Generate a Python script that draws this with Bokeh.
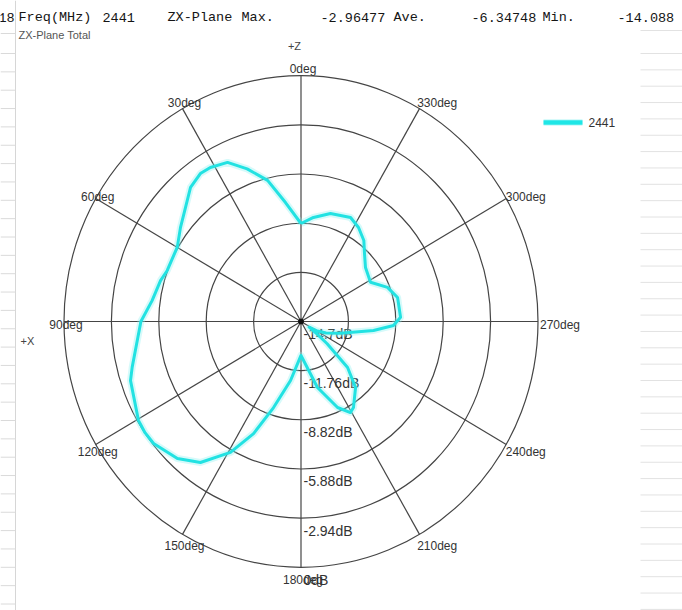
import numpy as np
from bokeh.plotting import figure
from bokeh.models import Range1d
from bokeh.embed import file_html
from bokeh.resources import INLINE
from bokeh.core.properties import value

# ---------------- data ----------------
series_name = "2441"
angles_deg = [0, 7.7, 13.8, 20.1, 25.6, 31.4, 35.2, 40.5, 46.4, 53.1,
              59.9, 69.8, 74.3, 82.3, 90, 104.6, 108.5, 120.4, 124.5, 128.6,
              136.9, 143.5, 150.8, 156.3, 161.7, 169.6, 180, 194.5, 203.8, 209.4,
              212.3, 220.6, 226.4, 230.6, 233, 236, 240, 246, 254, 263.2,
              267.6, 272.4, 283.5, 290.8, 298.6, 308.9, 315.9, 321.2, 327.6, 333.7,
              344.2, 352.9]
gain_db = [-8.84, -7.52, -6.01, -4.98, -4.15, -3.91, -3.87, -4.15, -4.81, -5.35,
           -5.83, -5.86, -5.65, -5.38, -4.77, -3.88, -3.55, -3.01, -2.96, -3.00,
           -3.48, -4.21, -5.73, -7.38, -9.28, -11.11, -12.67, -10.62, -9.08, -8.45,
           -8.61, -9.50, -10.71, -12.60, -13.40, -14.09, -13.60, -13.00, -12.15, -10.17,
           -8.96, -8.52, -8.54, -8.96, -9.79, -9.56, -9.04, -8.48, -8.04, -7.76,
           -7.99, -8.43]
ring_db = [-14.7, -11.76, -8.82, -5.88, -2.94, 0.0]
spoke_deg = [0, 30, 60, 90, 120, 150, 180, 210, 240, 270, 300, 330]
spoke_labels = [f"{a}deg" for a in spoke_deg]
header_tokens = ["18", "Freq(MHz)", "2441", "ZX-Plane", "Max.", "-2.96477",
                 "Ave.", "-6.34748", "Min.", "-14.088"]
chart_title = "ZX-Plane Total"

# ---------------- layout ----------------
W, H = 682, 610
OX, OY = 0, 0                   # page position of the canvas
CX, CY = 300.5, 321.0          # chart centre in page pixels
DB_MIN = ring_db[0]
SPAN = ring_db[-1] - ring_db[0]
KX = 237.0 / SPAN               # px per dB horizontally
KY = 245.8 / SPAN               # px per dB vertically

def px(X):
    return (X - CX) / KX

def py(Y):
    return (CY - Y) / KY

p = figure(width=W, height=H, output_backend="svg", toolbar_location=None,
           x_range=Range1d(px(OX), px(OX + W)), y_range=Range1d(py(OY + H), py(OY)),
           min_border=0)
p.axis.visible = False
p.grid.visible = False
p.outline_line_color = None
p.background_fill_color = "white"
p.border_fill_color = "white"

# spreadsheet background lines
p.segment(x0=[px(15)], y0=[py(0)], x1=[px(15)], y1=[py(610)],
          line_color="#d6d6d6", line_width=1)
left_rows = [33] + list(np.arange(53, 610, 18.35))
p.segment(x0=[px(0)] * len(left_rows), y0=[py(v) for v in left_rows],
          x1=[px(15)] * len(left_rows), y1=[py(v) for v in left_rows],
          line_color="#dadada", line_width=1)
right_rows = [30] + list(np.arange(53, 610, 16.35))
p.segment(x0=[px(640)] * len(right_rows), y0=[py(v) for v in right_rows],
          x1=[px(682)] * len(right_rows), y1=[py(v) for v in right_rows],
          line_color="#e2e2e2", line_width=1)

# header row
header_x = [-2, 18, 102, 167, 241, 320, 393, 471, 542, 617]
p.text(x=[px(v) for v in header_x], y=[py(17)] * len(header_tokens), text=header_tokens,
       text_font=value("Liberation Mono"), text_font_size="13.5px",
       text_color="#151515", text_baseline="middle", text_align="left")
p.text(x=[px(18)], y=[py(34)], text=[chart_title], text_font=value("Liberation Sans"),
       text_font_size="11px", text_color="#555555", text_baseline="middle")
p.text(x=[px(294)], y=[py(45)], text=["+Z"], text_font=value("Liberation Sans"),
       text_font_size="11px", text_color="#444444", text_baseline="middle", text_align="center")
p.text(x=[px(20)], y=[py(340)], text=["+X"], text_font=value("Liberation Sans"),
       text_font_size="11px", text_color="#444444", text_baseline="middle", text_align="left")

# polar grid
ring_r = [d - DB_MIN for d in ring_db[1:]]
p.ellipse(x=[0] * len(ring_r), y=[0] * len(ring_r), width=[2 * r for r in ring_r],
          height=[2 * r for r in ring_r], fill_color=None, line_color="#454545", line_width=1.2)
th = np.radians(spoke_deg)
R = SPAN
p.segment(x0=np.zeros(len(th)), y0=np.zeros(len(th)), x1=-R * np.sin(th), y1=R * np.cos(th),
          line_color="#454545", line_width=1.2)
p.scatter(x=[0], y=[0], size=5, color="#111111")

# angle labels
left_idx = [i for i, a in enumerate(spoke_deg) if a <= 180]
right_idx = [i for i, a in enumerate(spoke_deg) if a > 180]
c = np.cos(th)
p.text(x=[-R * np.sin(th[i]) for i in left_idx], y=[R * np.cos(th[i]) for i in left_idx],
       text=[spoke_labels[i] for i in left_idx],
       x_offset=[2 for i in left_idx], y_offset=[3 - 10 * c[i] for i in left_idx],
       text_font=value("Liberation Sans"), text_font_size="12px", text_color="#333333",
       text_align="center", text_baseline="middle")
p.text(x=[-R * np.sin(th[i]) for i in right_idx], y=[R * np.cos(th[i]) for i in right_idx],
       text=[spoke_labels[i] for i in right_idx],
       x_offset=[2 - 5 * abs(c[i]) for i in right_idx], y_offset=[3 - 10 * c[i] for i in right_idx],
       text_font=value("Liberation Sans"), text_font_size="12px", text_color="#333333",
       text_align="left", text_baseline="middle")

# dB labels along the bottom axis
p.text(x=[0] * len(ring_db), y=[-(d - DB_MIN) for d in ring_db],
       text=[f"{d:g}dB" for d in ring_db], x_offset=2.5, y_offset=12.5,
       text_font=value("Liberation Sans"), text_font_size="14px", text_color="#333333",
       text_align="left", text_baseline="middle")

# pattern
a = np.radians(angles_deg + [angles_deg[0]])
r = np.array(gain_db + [gain_db[0]]) - DB_MIN
xs = -r * np.sin(a)
ys = r * np.cos(a)
p.line(xs, ys, line_width=7, line_color="#8af2f2", line_alpha=0.35, line_join="round")
p.line(xs, ys, line_width=3, line_color="#22e2e2", line_join="round")

# legend
p.line([px(543), px(582)], [py(122), py(122)], line_width=7, line_color="#8af2f2", line_alpha=0.35)
p.line([px(543), px(582)], [py(122), py(122)], line_width=4.5, line_color="#1fe6e6")
p.text(x=[px(588)], y=[py(122)], text=[series_name], text_font=value("Liberation Sans"),
       text_font_size="12px", text_color="#333333", text_baseline="middle")

open("out.html", "w").write(file_html(p, INLINE))
